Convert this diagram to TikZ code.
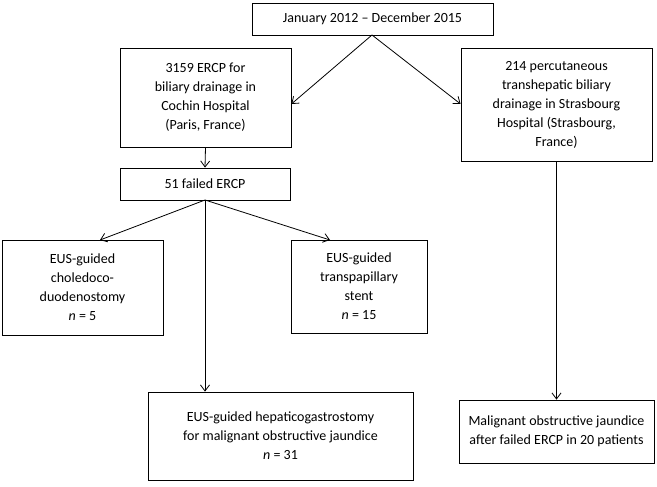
\documentclass[tikz,border=0pt]{standalone}
\usepackage{fontspec}
\setmainfont{Carlito}
\usetikzlibrary{arrows.meta}
\begin{document}
\begin{tikzpicture}[x=1pt,y=-1pt,
 box/.style={draw,line width=0.8pt,align=center,font=\fontsize{14}{19}\selectfont,inner sep=0pt},
 arr/.style={-{Straight Barb[length=6pt,width=9pt]},line width=0.8pt}]
\useasboundingbox (0,0) rectangle (657,487);
\node[box,minimum width=241pt,minimum height=32pt] (top) at (372.5,19) {January 2012 -- December 2015};
\node[box,minimum width=171pt,minimum height=99pt] (coc) at (205.5,97.5) {3159 ERCP for\\biliary drainage in\\Cochin Hospital\\(Paris, France)};
\node[box,minimum width=191pt,minimum height=113pt] (str) at (556.5,104.5) {214 percutaneous\\transhepatic biliary\\drainage in Strasbourg\\Hospital (Strasbourg,\\France)};
\node[box,minimum width=170pt,minimum height=32pt] (f51) at (205,184) {51 failed ERCP};
\node[box,minimum width=161pt,minimum height=95pt] (cho) at (82.5,287.5) {EUS-guided\\choledoco-\\duodenostomy\\\textit{n} = 5};
\node[box,minimum width=136pt,minimum height=93pt] (tra) at (359,286.5) {EUS-guided\\transpapillary\\stent\\\textit{n} = 15};
\node[box,minimum width=265pt,minimum height=88pt] (hep) at (280.5,436) {EUS-guided hepaticogastrostomy\\for malignant obstructive jaundice\\\textit{n} = 31};
\node[box,minimum width=195pt,minimum height=63pt] (mal) at (556.5,431.5) {Malignant obstructive jaundice\\after failed ERCP in 20 patients};
\coordinate (t0) at (372,35);
\draw[arr] (t0) -- (coc.east |- 0,104);
\draw[arr] (t0) -- (str.west |- 0,104);
\draw[arr] (coc.south) -- (f51.north);
\coordinate (f0) at (205,200);
\draw[arr] (f0) -- (100,240);
\draw[arr] (f0) -- (330,240);
\draw[arr] (f0) -- (hep.north -| f0);
\draw[arr] (str.south) -- (mal.north);
\end{tikzpicture}
\end{document}
